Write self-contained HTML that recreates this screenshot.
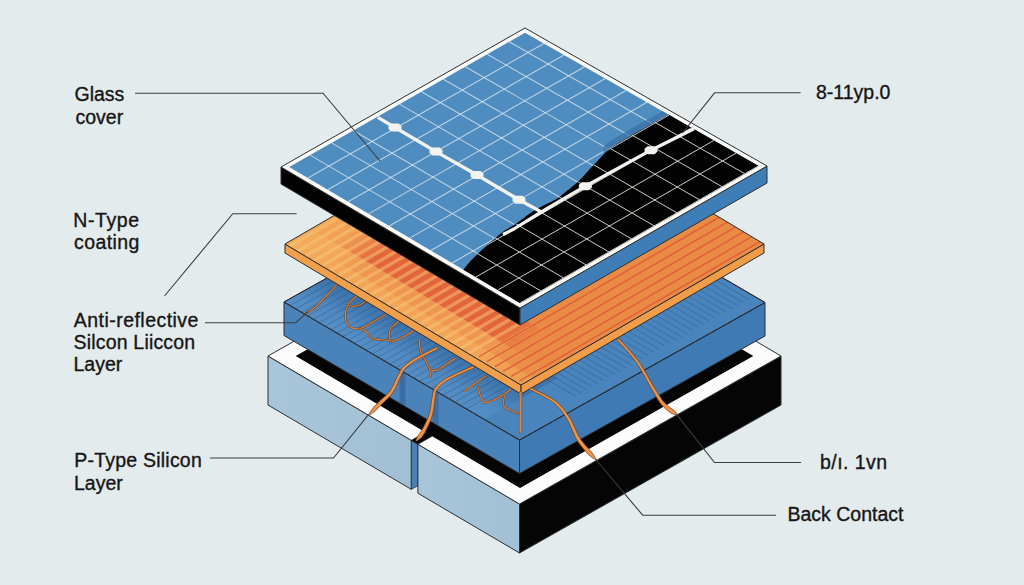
<!DOCTYPE html>
<html><head><meta charset="utf-8"><style>
html,body{margin:0;padding:0;}
body{width:1024px;height:585px;overflow:hidden;background:#e4ebec;}
svg{display:block;}
text{font-family:"Liberation Sans",sans-serif;font-size:19.5px;fill:#161616;stroke:#161616;stroke-width:0.35px;}
</style></head><body>
<svg width="1024" height="585" viewBox="0 0 1024 585">
<defs><linearGradient id="gBase" x1="0" y1="0" x2="1" y2="0"><stop offset="0" stop-color="#a8c5d9"/><stop offset="1" stop-color="#a2c0d5"/></linearGradient>
<linearGradient id="siV" gradientUnits="userSpaceOnUse" x1="284.00" y1="302.00" x2="406.51" y2="92.93"><stop offset="0.000" stop-color="#6aa2d4" stop-opacity="0.35"/><stop offset="0.060" stop-color="#6aa2d4" stop-opacity="0.2"/><stop offset="0.130" stop-color="#2a5a90" stop-opacity="0.25"/><stop offset="0.180" stop-color="#2a5a90" stop-opacity="0.4"/><stop offset="0.300" stop-color="#2a5a90" stop-opacity="0.4"/></linearGradient>
<linearGradient id="oB0" gradientUnits="userSpaceOnUse" x1="285.00" y1="244.00" x2="405.65" y2="451.93"><stop offset="0.000" stop-color="#f4ad5e"/><stop offset="0.200" stop-color="#f2a558"/><stop offset="0.800" stop-color="#f2a558"/><stop offset="0.900" stop-color="#f0a052"/><stop offset="1.000" stop-color="#eda050"/></linearGradient>
<linearGradient id="oB1" gradientUnits="userSpaceOnUse" x1="285.00" y1="244.00" x2="405.65" y2="451.93"><stop offset="0.000" stop-color="#f3aa5c"/><stop offset="0.120" stop-color="#f3aa5c"/><stop offset="0.250" stop-color="#ee9550"/><stop offset="0.800" stop-color="#ee9550"/><stop offset="0.900" stop-color="#eb9048"/><stop offset="1.000" stop-color="#eb9048"/></linearGradient>
<linearGradient id="oB2" gradientUnits="userSpaceOnUse" x1="285.00" y1="244.00" x2="405.65" y2="451.93"><stop offset="0.000" stop-color="#f2a558"/><stop offset="0.100" stop-color="#f0a055"/><stop offset="0.240" stop-color="#e3653c"/><stop offset="0.760" stop-color="#e3653c"/><stop offset="0.860" stop-color="#ea8b45"/><stop offset="1.000" stop-color="#ea8b45"/></linearGradient>
<clipPath id="cInner"><polygon points="289.21,167.03 520.14,303.19 758.69,166.07 524.97,32.71"/></clipPath>
<clipPath id="cBlack"><path d="M 674.00,111.50 C 673.07,112.07 672.57,112.55 668.40,114.90 C 664.23,117.25 655.83,121.77 649.00,125.60 C 642.17,129.43 634.07,133.92 627.40,137.90 C 620.73,141.88 614.55,145.05 609.00,149.50 C 603.45,153.95 599.15,159.35 594.10,164.60 C 589.05,169.85 584.17,175.87 578.70,181.00 C 573.23,186.13 565.25,192.27 561.30,195.40 C 557.35,198.53 559.48,197.28 555.00,199.80 C 550.52,202.32 540.92,206.50 534.40,210.50 C 527.88,214.50 520.70,220.55 515.90,223.80 C 511.10,227.05 508.85,227.77 505.60,230.00 C 502.35,232.23 500.25,233.95 496.40,237.20 C 492.55,240.45 486.77,245.57 482.50,249.50 C 478.23,253.43 473.95,257.47 470.80,260.80 C 467.65,264.13 465.57,267.13 463.60,269.50 C 461.63,271.87 459.77,274.08 459.00,275.00 L 450.15,289.61 L 519.34,330.55 L 805.94,165.66 Z"/></clipPath></defs>
<rect width="1024" height="585" fill="#e4ebec"/>
<polygon points="268.00,356.00 411.35,440.36 411.35,489.36 268.00,405.00" fill="url(#gBase)" stroke="#2b2f33" stroke-width="1"/>
<polygon points="411.35,440.36 417.89,436.66 417.89,485.66 411.35,489.36" fill="#4a80b6" stroke="#2b2f33" stroke-width="0.8"/>
<polygon points="417.89,444.21 519.50,504.00 519.50,553.00 417.89,493.21" fill="url(#gBase)" stroke="#2b2f33" stroke-width="1"/>
<polygon points="519.50,504.00 781.00,356.00 781.00,405.00 519.50,553.00" fill="#050505" stroke="#2b2f33" stroke-width="1"/>
<polygon points="268.00,356.00 519.50,504.00 781.00,356.00 529.50,208.00" fill="#fbfcfb" stroke="#2b2f33" stroke-width="1"/>
<polygon points="295.70,356.00 520.04,488.02 753.30,356.00 528.96,223.98" fill="#050505"/>
<polygon points="411.35,440.36 417.89,444.21 434.63,434.74 428.09,430.89" fill="#050505"/>
<polyline points="425.48,432.37 411.35,440.36 417.89,444.21 432.01,436.22" fill="none" stroke="#2b2f33" stroke-width="0.9"/>
<polygon points="284.00,302.00 519.50,440.00 519.50,473.50 284.00,335.50" fill="#4a83b9" stroke="#2b2f33" stroke-width="1"/>
<polygon points="519.50,440.00 765.00,302.50 765.00,336.00 519.50,473.50" fill="#3f7ab4" stroke="#2b2f33" stroke-width="1"/>
<polygon points="284.00,302.00 519.50,440.00 765.00,302.50 529.50,165.00" fill="#4a84bc" stroke="#2b2f33" stroke-width="1"/>
<polygon points="284.00,302.00 484.18,419.30 557.82,378.07 357.65,260.90" fill="url(#siV)"/>
<line x1="289.89" y1="305.45" x2="363.54" y2="264.35" stroke="#1f4a78" stroke-width="0.7" opacity="0.5"/>
<line x1="295.78" y1="308.90" x2="369.42" y2="267.79" stroke="#1f4a78" stroke-width="0.7" opacity="0.5"/>
<line x1="301.66" y1="312.35" x2="375.31" y2="271.24" stroke="#1f4a78" stroke-width="0.7" opacity="0.5"/>
<line x1="307.55" y1="315.80" x2="381.20" y2="274.69" stroke="#1f4a78" stroke-width="0.7" opacity="0.5"/>
<line x1="313.44" y1="319.25" x2="387.09" y2="278.13" stroke="#1f4a78" stroke-width="0.7" opacity="0.5"/>
<line x1="319.32" y1="322.70" x2="392.98" y2="281.58" stroke="#1f4a78" stroke-width="0.7" opacity="0.5"/>
<line x1="325.21" y1="326.15" x2="398.86" y2="285.02" stroke="#1f4a78" stroke-width="0.7" opacity="0.5"/>
<line x1="331.10" y1="329.60" x2="404.75" y2="288.47" stroke="#1f4a78" stroke-width="0.7" opacity="0.5"/>
<line x1="336.99" y1="333.05" x2="410.64" y2="291.92" stroke="#1f4a78" stroke-width="0.7" opacity="0.5"/>
<line x1="342.88" y1="336.50" x2="416.52" y2="295.36" stroke="#1f4a78" stroke-width="0.7" opacity="0.5"/>
<line x1="348.76" y1="339.95" x2="422.41" y2="298.81" stroke="#1f4a78" stroke-width="0.7" opacity="0.5"/>
<line x1="354.65" y1="343.40" x2="428.30" y2="302.25" stroke="#1f4a78" stroke-width="0.7" opacity="0.5"/>
<line x1="360.54" y1="346.85" x2="434.19" y2="305.70" stroke="#1f4a78" stroke-width="0.7" opacity="0.5"/>
<line x1="366.42" y1="350.30" x2="440.07" y2="309.15" stroke="#1f4a78" stroke-width="0.7" opacity="0.5"/>
<line x1="372.31" y1="353.75" x2="445.96" y2="312.59" stroke="#1f4a78" stroke-width="0.7" opacity="0.5"/>
<line x1="378.20" y1="357.20" x2="451.85" y2="316.04" stroke="#1f4a78" stroke-width="0.7" opacity="0.5"/>
<line x1="384.09" y1="360.65" x2="457.74" y2="319.49" stroke="#1f4a78" stroke-width="0.7" opacity="0.5"/>
<line x1="389.98" y1="364.10" x2="463.63" y2="322.93" stroke="#1f4a78" stroke-width="0.7" opacity="0.5"/>
<line x1="395.86" y1="367.55" x2="469.51" y2="326.38" stroke="#1f4a78" stroke-width="0.7" opacity="0.5"/>
<line x1="401.75" y1="371.00" x2="475.40" y2="329.82" stroke="#1f4a78" stroke-width="0.7" opacity="0.5"/>
<line x1="407.64" y1="374.45" x2="481.29" y2="333.27" stroke="#1f4a78" stroke-width="0.7" opacity="0.5"/>
<line x1="413.52" y1="377.90" x2="487.17" y2="336.72" stroke="#1f4a78" stroke-width="0.7" opacity="0.5"/>
<line x1="419.41" y1="381.35" x2="493.06" y2="340.16" stroke="#1f4a78" stroke-width="0.7" opacity="0.5"/>
<line x1="425.30" y1="384.80" x2="498.95" y2="343.61" stroke="#1f4a78" stroke-width="0.7" opacity="0.5"/>
<line x1="431.19" y1="388.25" x2="504.84" y2="347.06" stroke="#1f4a78" stroke-width="0.7" opacity="0.5"/>
<line x1="437.07" y1="391.70" x2="510.73" y2="350.50" stroke="#1f4a78" stroke-width="0.7" opacity="0.5"/>
<line x1="442.96" y1="395.15" x2="516.61" y2="353.95" stroke="#1f4a78" stroke-width="0.7" opacity="0.5"/>
<line x1="448.85" y1="398.60" x2="522.50" y2="357.39" stroke="#1f4a78" stroke-width="0.7" opacity="0.5"/>
<line x1="454.74" y1="402.05" x2="528.39" y2="360.84" stroke="#1f4a78" stroke-width="0.7" opacity="0.5"/>
<line x1="460.62" y1="405.50" x2="534.27" y2="364.29" stroke="#1f4a78" stroke-width="0.7" opacity="0.5"/>
<line x1="466.51" y1="408.95" x2="540.16" y2="367.73" stroke="#1f4a78" stroke-width="0.7" opacity="0.5"/>
<line x1="515.80" y1="361.14" x2="575.86" y2="396.30" stroke="#1f4a78" stroke-width="0.7" opacity="0.5"/>
<line x1="521.38" y1="358.02" x2="581.44" y2="393.17" stroke="#1f4a78" stroke-width="0.7" opacity="0.5"/>
<line x1="526.96" y1="354.90" x2="587.02" y2="390.05" stroke="#1f4a78" stroke-width="0.7" opacity="0.5"/>
<line x1="532.54" y1="351.78" x2="592.60" y2="386.92" stroke="#1f4a78" stroke-width="0.7" opacity="0.5"/>
<line x1="538.12" y1="348.65" x2="598.18" y2="383.80" stroke="#1f4a78" stroke-width="0.7" opacity="0.5"/>
<line x1="543.70" y1="345.53" x2="603.75" y2="380.67" stroke="#1f4a78" stroke-width="0.7" opacity="0.5"/>
<line x1="549.28" y1="342.41" x2="609.33" y2="377.55" stroke="#1f4a78" stroke-width="0.7" opacity="0.5"/>
<line x1="554.86" y1="339.29" x2="614.91" y2="374.42" stroke="#1f4a78" stroke-width="0.7" opacity="0.5"/>
<line x1="560.44" y1="336.17" x2="620.49" y2="371.30" stroke="#1f4a78" stroke-width="0.7" opacity="0.5"/>
<line x1="566.02" y1="333.05" x2="626.07" y2="368.18" stroke="#1f4a78" stroke-width="0.7" opacity="0.5"/>
<line x1="571.60" y1="329.93" x2="631.65" y2="365.05" stroke="#1f4a78" stroke-width="0.7" opacity="0.5"/>
<line x1="577.18" y1="326.80" x2="637.23" y2="361.93" stroke="#1f4a78" stroke-width="0.7" opacity="0.5"/>
<line x1="582.76" y1="323.68" x2="642.81" y2="358.80" stroke="#1f4a78" stroke-width="0.7" opacity="0.5"/>
<line x1="588.34" y1="320.56" x2="648.39" y2="355.68" stroke="#1f4a78" stroke-width="0.7" opacity="0.5"/>
<line x1="593.92" y1="317.44" x2="653.97" y2="352.55" stroke="#1f4a78" stroke-width="0.7" opacity="0.5"/>
<line x1="599.50" y1="314.32" x2="659.55" y2="349.43" stroke="#1f4a78" stroke-width="0.7" opacity="0.5"/>
<line x1="605.08" y1="311.20" x2="665.13" y2="346.30" stroke="#1f4a78" stroke-width="0.7" opacity="0.5"/>
<line x1="610.66" y1="308.07" x2="670.71" y2="343.18" stroke="#1f4a78" stroke-width="0.7" opacity="0.5"/>
<line x1="616.24" y1="304.95" x2="676.29" y2="340.06" stroke="#1f4a78" stroke-width="0.7" opacity="0.5"/>
<line x1="621.82" y1="301.83" x2="681.87" y2="336.93" stroke="#1f4a78" stroke-width="0.7" opacity="0.5"/>
<line x1="627.40" y1="298.71" x2="687.45" y2="333.81" stroke="#1f4a78" stroke-width="0.7" opacity="0.5"/>
<line x1="632.98" y1="295.59" x2="693.03" y2="330.68" stroke="#1f4a78" stroke-width="0.7" opacity="0.5"/>
<line x1="638.55" y1="292.47" x2="698.61" y2="327.56" stroke="#1f4a78" stroke-width="0.7" opacity="0.5"/>
<line x1="644.13" y1="289.34" x2="704.19" y2="324.43" stroke="#1f4a78" stroke-width="0.7" opacity="0.5"/>
<line x1="649.71" y1="286.22" x2="709.77" y2="321.31" stroke="#1f4a78" stroke-width="0.7" opacity="0.5"/>
<line x1="655.29" y1="283.10" x2="715.35" y2="318.18" stroke="#1f4a78" stroke-width="0.7" opacity="0.5"/>
<line x1="660.87" y1="279.98" x2="720.93" y2="315.06" stroke="#1f4a78" stroke-width="0.7" opacity="0.5"/>
<line x1="666.45" y1="276.86" x2="726.50" y2="311.93" stroke="#1f4a78" stroke-width="0.7" opacity="0.5"/>
<line x1="672.03" y1="273.74" x2="732.08" y2="308.81" stroke="#1f4a78" stroke-width="0.7" opacity="0.5"/>
<line x1="677.61" y1="270.61" x2="737.66" y2="305.69" stroke="#1f4a78" stroke-width="0.7" opacity="0.5"/>
<line x1="683.19" y1="267.49" x2="743.24" y2="302.56" stroke="#1f4a78" stroke-width="0.7" opacity="0.5"/>
<line x1="688.77" y1="264.37" x2="748.82" y2="299.44" stroke="#1f4a78" stroke-width="0.7" opacity="0.5"/>
<polygon points="284.00,302.00 519.50,440.00 765.00,302.50 529.50,165.00" fill="none" stroke="#2b2f33" stroke-width="1"/>
<path d="M 336.90,284.60 C 335.12,286.53 329.78,292.48 326.20,296.20 C 322.62,299.92 319.00,303.83 315.40,306.90 C 311.80,309.97 306.40,313.32 304.60,314.60 " fill="none" stroke="#6a3a1c" stroke-width="2.10" stroke-linecap="round" stroke-linejoin="round" opacity="0.85"/>
<path d="M 336.90,284.60 C 335.12,286.53 329.78,292.48 326.20,296.20 C 322.62,299.92 319.00,303.83 315.40,306.90 C 311.80,309.97 306.40,313.32 304.60,314.60 " fill="none" stroke="#e0823a" stroke-width="1.10" stroke-linecap="round" stroke-linejoin="round"/>
<path d="M 356.20,296.20 C 354.78,297.73 349.50,302.07 347.70,305.40 C 345.90,308.73 345.15,312.73 345.40,316.20 C 345.65,319.67 346.77,324.15 349.20,326.20 C 351.63,328.25 356.15,329.15 360.00,328.50 C 363.85,327.85 368.07,324.62 372.30,322.30 C 376.53,319.98 383.22,315.88 385.40,314.60 " fill="none" stroke="#6a3a1c" stroke-width="2.10" stroke-linecap="round" stroke-linejoin="round" opacity="0.85"/>
<path d="M 356.20,296.20 C 354.78,297.73 349.50,302.07 347.70,305.40 C 345.90,308.73 345.15,312.73 345.40,316.20 C 345.65,319.67 346.77,324.15 349.20,326.20 C 351.63,328.25 356.15,329.15 360.00,328.50 C 363.85,327.85 368.07,324.62 372.30,322.30 C 376.53,319.98 383.22,315.88 385.40,314.60 " fill="none" stroke="#e0823a" stroke-width="1.10" stroke-linecap="round" stroke-linejoin="round"/>
<path d="M 347.70,305.40 C 349.23,305.53 353.95,306.85 356.90,306.20 C 359.85,305.55 363.98,302.28 365.40,301.50 " fill="none" stroke="#6a3a1c" stroke-width="2.00" stroke-linecap="round" stroke-linejoin="round" opacity="0.85"/>
<path d="M 347.70,305.40 C 349.23,305.53 353.95,306.85 356.90,306.20 C 359.85,305.55 363.98,302.28 365.40,301.50 " fill="none" stroke="#e0823a" stroke-width="1.00" stroke-linecap="round" stroke-linejoin="round"/>
<path d="M 360.00,328.50 C 361.03,329.00 364.15,329.83 366.20,331.50 C 368.25,333.17 369.23,337.08 372.30,338.50 C 375.37,339.92 381.52,339.62 384.60,340.00 C 387.68,340.38 389.77,340.67 390.80,340.80 " fill="none" stroke="#6a3a1c" stroke-width="2.10" stroke-linecap="round" stroke-linejoin="round" opacity="0.85"/>
<path d="M 360.00,328.50 C 361.03,329.00 364.15,329.83 366.20,331.50 C 368.25,333.17 369.23,337.08 372.30,338.50 C 375.37,339.92 381.52,339.62 384.60,340.00 C 387.68,340.38 389.77,340.67 390.80,340.80 " fill="none" stroke="#e0823a" stroke-width="1.10" stroke-linecap="round" stroke-linejoin="round"/>
<path d="M 398.50,321.50 C 397.22,322.67 392.35,326.05 390.80,328.50 C 389.25,330.95 388.95,334.03 389.20,336.20 C 389.45,338.37 390.25,341.25 392.30,341.50 C 394.35,341.75 397.92,339.48 401.50,337.70 C 405.08,335.92 411.75,331.95 413.80,330.80 " fill="none" stroke="#6a3a1c" stroke-width="2.10" stroke-linecap="round" stroke-linejoin="round" opacity="0.85"/>
<path d="M 398.50,321.50 C 397.22,322.67 392.35,326.05 390.80,328.50 C 389.25,330.95 388.95,334.03 389.20,336.20 C 389.45,338.37 390.25,341.25 392.30,341.50 C 394.35,341.75 397.92,339.48 401.50,337.70 C 405.08,335.92 411.75,331.95 413.80,330.80 " fill="none" stroke="#e0823a" stroke-width="1.10" stroke-linecap="round" stroke-linejoin="round"/>
<path d="M 419.50,339.40 C 419.65,341.28 418.83,346.00 420.40,350.70 C 421.97,355.40 427.17,363.22 428.90,367.60 C 430.63,371.98 430.48,375.43 430.80,377.00 " fill="none" stroke="#6a3a1c" stroke-width="2.10" stroke-linecap="round" stroke-linejoin="round" opacity="0.85"/>
<path d="M 419.50,339.40 C 419.65,341.28 418.83,346.00 420.40,350.70 C 421.97,355.40 427.17,363.22 428.90,367.60 C 430.63,371.98 430.48,375.43 430.80,377.00 " fill="none" stroke="#e0823a" stroke-width="1.10" stroke-linecap="round" stroke-linejoin="round"/>
<path d="M 428.90,367.60 C 430.15,368.07 432.02,371.97 436.40,370.40 C 440.78,368.83 452.07,360.23 455.20,358.20 " fill="none" stroke="#6a3a1c" stroke-width="2.10" stroke-linecap="round" stroke-linejoin="round" opacity="0.85"/>
<path d="M 428.90,367.60 C 430.15,368.07 432.02,371.97 436.40,370.40 C 440.78,368.83 452.07,360.23 455.20,358.20 " fill="none" stroke="#e0823a" stroke-width="1.10" stroke-linecap="round" stroke-linejoin="round"/>
<path d="M 486.70,375.60 C 482.98,378.17 468.12,388.43 464.40,391.00 " fill="none" stroke="#6a3a1c" stroke-width="2.10" stroke-linecap="round" stroke-linejoin="round" opacity="0.85"/>
<path d="M 486.70,375.60 C 482.98,378.17 468.12,388.43 464.40,391.00 " fill="none" stroke="#e0823a" stroke-width="1.10" stroke-linecap="round" stroke-linejoin="round"/>
<path d="M 477.80,386.70 C 478.90,389.28 480.33,400.72 484.40,402.20 C 488.47,403.68 497.77,397.80 502.20,395.60 C 506.63,393.40 509.53,390.10 511.00,389.00 " fill="none" stroke="#6a3a1c" stroke-width="2.10" stroke-linecap="round" stroke-linejoin="round" opacity="0.85"/>
<path d="M 477.80,386.70 C 478.90,389.28 480.33,400.72 484.40,402.20 C 488.47,403.68 497.77,397.80 502.20,395.60 C 506.63,393.40 509.53,390.10 511.00,389.00 " fill="none" stroke="#e0823a" stroke-width="1.10" stroke-linecap="round" stroke-linejoin="round"/>
<path d="M 504.40,395.60 C 504.40,397.45 502.17,403.75 504.40,406.70 C 506.63,409.65 515.57,412.20 517.80,413.30 " fill="none" stroke="#6a3a1c" stroke-width="2.10" stroke-linecap="round" stroke-linejoin="round" opacity="0.85"/>
<path d="M 504.40,395.60 C 504.40,397.45 502.17,403.75 504.40,406.70 C 506.63,409.65 515.57,412.20 517.80,413.30 " fill="none" stroke="#e0823a" stroke-width="1.10" stroke-linecap="round" stroke-linejoin="round"/>
<polygon points="399.50,369.68 405.50,373.18 405.50,406.18 399.50,402.68" fill="#24548a" opacity="0.45"/>
<polygon points="432.50,389.02 438.50,392.52 438.50,425.52 432.50,422.02" fill="#24548a" opacity="0.45"/>
<polygon points="285.00,244.00 521.00,385.00 521.00,394.00 285.00,253.00" fill="#f19f4a" stroke="#2b2f33" stroke-width="1"/>
<polygon points="521.00,385.00 764.00,244.00 764.00,253.00 521.00,394.00" fill="#f09c48" stroke="#2b2f33" stroke-width="1"/>
<polygon points="285.00,244.00 521.00,385.00 764.00,244.00 528.00,103.00" fill="#ea8b45"/>
<polygon points="285.00,244.00 521.00,385.00 533.15,377.95 297.15,236.95" fill="url(#oB0)"/>
<polygon points="297.15,236.95 533.15,377.95 547.73,369.49 311.73,228.49" fill="url(#oB1)"/>
<polygon points="311.73,228.49 547.73,369.49 578.11,351.86 342.11,210.87" fill="url(#oB2)"/>
<polygon points="287.42,245.44 290.72,247.42 347.83,214.28 344.52,212.31" fill="#fac878" opacity="0.50"/>
<polygon points="295.55,250.31 298.86,252.28 355.96,219.15 352.66,217.17" fill="#fac878" opacity="0.50"/>
<polygon points="303.69,255.17 307.00,257.14 364.10,224.01 360.80,222.03" fill="#fac878" opacity="0.50"/>
<polygon points="311.83,260.03 315.13,262.00 372.24,228.87 368.94,226.90" fill="#fac878" opacity="0.50"/>
<polygon points="319.97,264.89 323.27,266.87 380.38,233.73 377.07,231.76" fill="#fac878" opacity="0.50"/>
<polygon points="328.11,269.75 331.41,271.73 388.52,238.59 385.21,236.62" fill="#fac878" opacity="0.50"/>
<polygon points="336.24,274.62 339.55,276.59 396.65,243.46 393.35,241.48" fill="#fac878" opacity="0.50"/>
<polygon points="344.38,279.48 347.69,281.45 404.79,248.32 401.49,246.34" fill="#fac878" opacity="0.50"/>
<polygon points="352.52,284.34 355.82,286.31 412.93,253.18 409.63,251.21" fill="#fac878" opacity="0.50"/>
<polygon points="360.66,289.20 363.96,291.18 421.07,258.04 417.76,256.07" fill="#fac878" opacity="0.50"/>
<polygon points="368.80,294.06 372.10,296.04 429.21,262.90 425.90,260.93" fill="#fac878" opacity="0.50"/>
<polygon points="376.93,298.93 380.24,300.90 437.34,267.77 434.04,265.79" fill="#fac878" opacity="0.50"/>
<polygon points="385.07,303.79 388.38,305.76 445.48,272.63 442.18,270.65" fill="#fac878" opacity="0.50"/>
<polygon points="393.21,308.65 396.51,310.62 453.62,277.49 450.32,275.52" fill="#fac878" opacity="0.50"/>
<polygon points="401.35,313.51 404.65,315.49 461.76,282.35 458.45,280.38" fill="#fac878" opacity="0.50"/>
<polygon points="409.49,318.38 412.79,320.35 469.89,287.21 466.59,285.24" fill="#fac878" opacity="0.50"/>
<polygon points="417.62,323.24 420.93,325.21 478.03,292.08 474.73,290.10" fill="#fac878" opacity="0.50"/>
<polygon points="425.76,328.10 429.07,330.07 486.17,296.94 482.87,294.96" fill="#fac878" opacity="0.50"/>
<polygon points="433.90,332.96 437.20,334.94 494.31,301.80 491.00,299.83" fill="#fac878" opacity="0.50"/>
<polygon points="442.04,337.82 445.34,339.80 502.45,306.66 499.14,304.69" fill="#fac878" opacity="0.50"/>
<polygon points="450.18,342.69 453.48,344.66 510.58,311.52 507.28,309.55" fill="#fac878" opacity="0.50"/>
<polygon points="458.31,347.55 461.62,349.52 518.72,316.39 515.42,314.41" fill="#fac878" opacity="0.50"/>
<polygon points="466.45,352.41 469.76,354.38 526.86,321.25 523.56,319.27" fill="#fac878" opacity="0.50"/>
<polygon points="474.59,357.27 477.89,359.25 535.00,326.11 531.69,324.14" fill="#fac878" opacity="0.31"/>
<polygon points="482.73,362.13 486.03,364.11 543.14,330.97 539.83,329.00" fill="#fac878" opacity="0.09"/>
<line x1="349.82" y1="211.18" x2="532.07" y2="105.43" stroke="#e05c38" stroke-width="1.5" opacity="0.9"/>
<line x1="357.96" y1="216.04" x2="540.21" y2="110.29" stroke="#e05c38" stroke-width="1.5" opacity="0.9"/>
<line x1="366.09" y1="220.91" x2="548.34" y2="115.16" stroke="#e05c38" stroke-width="1.5" opacity="0.9"/>
<line x1="374.23" y1="225.77" x2="556.48" y2="120.02" stroke="#e05c38" stroke-width="1.5" opacity="0.9"/>
<line x1="382.37" y1="230.63" x2="564.62" y2="124.88" stroke="#e05c38" stroke-width="1.5" opacity="0.9"/>
<line x1="390.51" y1="235.49" x2="572.76" y2="129.74" stroke="#e05c38" stroke-width="1.5" opacity="0.9"/>
<line x1="398.65" y1="240.35" x2="580.90" y2="134.60" stroke="#e05c38" stroke-width="1.5" opacity="0.9"/>
<line x1="406.78" y1="245.22" x2="589.03" y2="139.47" stroke="#e05c38" stroke-width="1.5" opacity="0.9"/>
<line x1="414.92" y1="250.08" x2="597.17" y2="144.33" stroke="#e05c38" stroke-width="1.5" opacity="0.9"/>
<line x1="423.06" y1="254.94" x2="605.31" y2="149.19" stroke="#e05c38" stroke-width="1.5" opacity="0.9"/>
<line x1="431.20" y1="259.80" x2="613.45" y2="154.05" stroke="#e05c38" stroke-width="1.5" opacity="0.9"/>
<line x1="439.34" y1="264.66" x2="621.59" y2="158.91" stroke="#e05c38" stroke-width="1.5" opacity="0.9"/>
<line x1="447.47" y1="269.53" x2="629.72" y2="163.78" stroke="#e05c38" stroke-width="1.5" opacity="0.9"/>
<line x1="455.61" y1="274.39" x2="637.86" y2="168.64" stroke="#e05c38" stroke-width="1.5" opacity="0.9"/>
<line x1="463.75" y1="279.25" x2="646.00" y2="173.50" stroke="#e05c38" stroke-width="1.5" opacity="0.9"/>
<line x1="471.89" y1="284.11" x2="654.14" y2="178.36" stroke="#e05c38" stroke-width="1.5" opacity="0.9"/>
<line x1="480.03" y1="288.97" x2="662.28" y2="183.22" stroke="#e05c38" stroke-width="1.5" opacity="0.9"/>
<line x1="488.16" y1="293.84" x2="670.41" y2="188.09" stroke="#e05c38" stroke-width="1.5" opacity="0.9"/>
<line x1="496.30" y1="298.70" x2="678.55" y2="192.95" stroke="#e05c38" stroke-width="1.5" opacity="0.9"/>
<line x1="504.44" y1="303.56" x2="686.69" y2="197.81" stroke="#e05c38" stroke-width="1.5" opacity="0.9"/>
<line x1="512.58" y1="308.42" x2="694.83" y2="202.67" stroke="#e05c38" stroke-width="1.5" opacity="0.9"/>
<line x1="520.72" y1="313.28" x2="702.97" y2="207.53" stroke="#e05c38" stroke-width="1.5" opacity="0.9"/>
<line x1="528.85" y1="318.15" x2="711.10" y2="212.40" stroke="#e05c38" stroke-width="1.5" opacity="0.9"/>
<line x1="478.67" y1="356.85" x2="719.24" y2="217.26" stroke="#e05c38" stroke-width="1.5" opacity="0.9"/>
<line x1="486.81" y1="361.71" x2="727.38" y2="222.12" stroke="#e05c38" stroke-width="1.5" opacity="0.9"/>
<line x1="494.95" y1="366.57" x2="735.52" y2="226.98" stroke="#e05c38" stroke-width="1.5" opacity="0.9"/>
<line x1="503.09" y1="371.43" x2="743.66" y2="231.84" stroke="#e05c38" stroke-width="1.5" opacity="0.9"/>
<line x1="511.22" y1="376.30" x2="751.79" y2="236.71" stroke="#e05c38" stroke-width="1.5" opacity="0.9"/>
<line x1="519.36" y1="381.16" x2="759.93" y2="241.57" stroke="#e05c38" stroke-width="1.5" opacity="0.9"/>
<polygon points="285.00,244.00 521.00,385.00 764.00,244.00 528.00,103.00" fill="none" stroke="#2b2f33" stroke-width="1"/>
<polygon points="437.26,346.73 436.26,347.23 434.99,347.86 433.47,348.61 431.77,349.45 429.92,350.36 427.98,351.32 425.99,352.32 424.00,353.33 422.05,354.33 420.20,355.31 418.49,356.24 416.96,357.11 415.58,357.93 414.24,358.74 412.94,359.53 411.69,360.32 410.49,361.11 409.34,361.89 408.23,362.67 407.17,363.45 406.16,364.23 405.20,365.02 404.29,365.82 403.43,366.63 402.64,367.44 401.96,368.23 401.36,369.01 400.84,369.77 400.38,370.53 399.96,371.30 399.57,372.06 399.20,372.84 398.81,373.63 398.41,374.46 397.97,375.34 397.45,376.30 396.88,377.39 396.30,378.57 395.73,379.81 395.14,381.09 394.55,382.40 393.95,383.72 393.33,385.05 392.69,386.35 392.03,387.61 391.35,388.82 390.65,389.96 389.92,391.02 389.16,392.01 388.34,392.96 387.47,393.88 386.57,394.78 385.63,395.67 384.66,396.54 383.68,397.41 382.67,398.29 381.66,399.18 380.65,400.08 379.64,401.02 378.65,401.98 377.67,402.98 376.63,404.04 375.56,405.14 374.48,406.26 373.43,407.42 372.55,408.69 371.70,409.92 370.92,411.09 370.21,412.19 369.61,413.18 369.12,414.05 368.77,414.78 369.23,415.22 369.94,414.81 370.78,414.27 371.72,413.59 372.76,412.81 373.88,411.95 375.04,411.02 376.24,410.06 377.33,408.94 378.38,407.80 379.41,406.68 380.41,405.61 381.35,404.62 382.25,403.69 383.17,402.79 384.13,401.89 385.10,400.99 386.08,400.09 387.07,399.17 388.06,398.24 389.04,397.27 390.00,396.27 390.93,395.23 391.82,394.13 392.68,392.98 393.48,391.76 394.23,390.47 394.94,389.15 395.61,387.79 396.25,386.41 396.87,385.04 397.45,383.68 398.02,382.36 398.57,381.08 399.10,379.87 399.63,378.74 400.15,377.70 400.65,376.70 401.10,375.75 401.50,374.88 401.86,374.07 402.20,373.31 402.53,372.60 402.87,371.93 403.24,371.28 403.66,370.63 404.14,369.97 404.70,369.29 405.37,368.57 406.14,367.82 406.96,367.07 407.85,366.32 408.79,365.56 409.79,364.80 410.84,364.04 411.95,363.27 413.11,362.49 414.32,361.71 415.58,360.91 416.89,360.10 418.24,359.29 419.72,358.43 421.39,357.50 423.21,356.52 425.13,355.52 427.10,354.51 429.07,353.50 431.00,352.54 432.84,351.62 434.54,350.77 436.06,350.02 437.34,349.38 438.34,348.87" fill="#ee9444" stroke="#6a3a1c" stroke-width="0.7" stroke-linejoin="round"/>
<polygon points="473.50,365.61 472.19,366.20 470.48,366.96 468.44,367.85 466.14,368.86 463.65,369.95 461.06,371.10 458.42,372.28 455.81,373.47 453.30,374.64 450.96,375.77 448.87,376.83 447.08,377.80 445.55,378.70 444.16,379.56 442.89,380.39 441.74,381.20 440.69,382.00 439.72,382.78 438.84,383.56 438.03,384.34 437.28,385.11 436.59,385.89 435.93,386.68 435.29,387.49 434.71,388.31 434.21,389.12 433.81,389.91 433.50,390.69 433.25,391.47 433.06,392.24 432.90,393.01 432.77,393.79 432.64,394.61 432.50,395.46 432.33,396.38 432.11,397.41 431.87,398.59 431.66,399.86 431.47,401.20 431.28,402.59 431.10,404.02 430.91,405.48 430.71,406.96 430.48,408.44 430.22,409.91 429.92,411.35 429.58,412.75 429.18,414.11 428.72,415.48 428.19,416.90 427.62,418.35 426.99,419.83 426.34,421.30 425.66,422.76 424.96,424.20 424.25,425.61 423.55,426.96 422.86,428.25 422.19,429.46 421.56,430.57 420.94,431.58 420.30,432.56 419.63,433.49 418.95,434.39 418.30,435.27 417.81,436.22 417.33,437.13 416.90,437.99 416.50,438.79 416.17,439.53 415.92,440.21 415.75,440.80 416.25,441.20 416.78,440.92 417.38,440.57 418.06,440.14 418.81,439.63 419.60,439.05 420.44,438.39 421.32,437.66 422.06,436.75 422.78,435.74 423.49,434.69 424.18,433.58 424.84,432.43 425.48,431.24 426.14,429.98 426.82,428.63 427.51,427.22 428.20,425.76 428.89,424.26 429.57,422.73 430.22,421.19 430.84,419.64 431.42,418.10 431.95,416.58 432.42,415.09 432.82,413.58 433.17,412.04 433.46,410.49 433.70,408.94 433.91,407.40 434.09,405.88 434.25,404.40 434.41,402.96 434.56,401.60 434.72,400.30 434.89,399.11 435.09,397.99 435.29,396.93 435.44,395.94 435.56,395.04 435.67,394.23 435.77,393.49 435.88,392.83 436.01,392.21 436.18,391.62 436.39,391.04 436.67,390.44 437.03,389.81 437.51,389.11 438.06,388.37 438.65,387.64 439.27,386.92 439.93,386.21 440.65,385.49 441.44,384.77 442.31,384.03 443.28,383.28 444.35,382.51 445.54,381.70 446.86,380.87 448.32,380.00 450.03,379.05 452.07,378.00 454.37,376.88 456.85,375.71 459.43,374.51 462.06,373.33 464.64,372.17 467.11,371.08 469.41,370.06 471.45,369.16 473.17,368.39 474.50,367.79" fill="#ee9444" stroke="#6a3a1c" stroke-width="0.7" stroke-linejoin="round"/>
<path d="M 520.50,392.50 C 520.50,399.08 520.50,425.42 520.50,432.00 " fill="none" stroke="#6a3a1c" stroke-width="3.20" stroke-linecap="round" stroke-linejoin="round" opacity="0.85"/>
<path d="M 520.50,392.50 C 520.50,399.08 520.50,425.42 520.50,432.00 " fill="none" stroke="#e0823a" stroke-width="2.20" stroke-linecap="round" stroke-linejoin="round"/>
<polygon points="616.78,339.73 617.72,340.79 618.91,342.09 620.30,343.59 621.87,345.27 623.56,347.11 625.34,349.06 627.17,351.11 629.03,353.22 630.85,355.37 632.62,357.52 634.28,359.65 635.79,361.72 637.23,363.83 638.66,366.06 640.08,368.40 641.48,370.80 642.87,373.25 644.23,375.71 645.57,378.16 646.88,380.56 648.15,382.89 649.38,385.12 650.58,387.23 651.73,389.18 652.80,390.96 653.80,392.64 654.73,394.24 655.62,395.75 656.48,397.20 657.31,398.58 658.15,399.92 658.98,401.20 659.84,402.45 660.73,403.66 661.67,404.85 662.67,406.03 663.77,407.20 664.97,408.34 666.22,409.43 667.50,410.46 668.79,411.45 670.05,412.37 671.28,413.24 672.58,413.79 673.84,414.19 674.97,414.51 675.96,414.73 676.81,414.87 677.19,414.33 676.77,413.56 676.15,412.71 675.40,411.80 674.53,410.82 673.53,409.85 672.32,409.08 671.08,408.25 669.83,407.37 668.61,406.46 667.44,405.52 666.34,404.55 665.33,403.57 664.39,402.54 663.49,401.49 662.62,400.40 661.77,399.26 660.93,398.07 660.09,396.82 659.22,395.49 658.33,394.10 657.41,392.62 656.43,391.05 655.38,389.38 654.27,387.62 653.10,385.74 651.89,383.69 650.62,381.50 649.32,379.20 647.97,376.82 646.59,374.39 645.18,371.93 643.75,369.48 642.29,367.06 640.81,364.70 639.31,362.43 637.81,360.28 636.21,358.16 634.49,356.01 632.67,353.84 630.80,351.68 628.91,349.56 627.04,347.51 625.23,345.56 623.51,343.74 621.94,342.06 620.54,340.58 619.35,339.30 618.42,338.27" fill="#ee9444" stroke="#6a3a1c" stroke-width="0.7" stroke-linejoin="round"/>
<polygon points="529.49,389.37 530.72,390.03 532.32,390.84 534.20,391.78 536.31,392.83 538.59,393.97 540.97,395.19 543.39,396.47 545.80,397.78 548.12,399.11 550.30,400.43 552.26,401.73 553.94,402.98 555.42,404.21 556.79,405.45 558.04,406.70 559.21,407.97 560.31,409.25 561.35,410.57 562.34,411.91 563.30,413.29 564.25,414.72 565.20,416.19 566.16,417.72 567.13,419.29 568.07,420.89 568.94,422.57 569.77,424.32 570.57,426.14 571.36,428.01 572.15,429.92 572.96,431.85 573.80,433.79 574.68,435.74 575.63,437.66 576.66,439.56 577.79,441.41 579.05,443.26 580.47,445.16 581.99,447.09 583.59,449.03 585.22,450.95 586.85,452.81 588.44,454.60 590.16,456.07 591.82,457.35 593.33,458.45 594.65,459.35 595.75,460.02 596.25,459.58 595.70,458.40 594.90,456.99 593.91,455.40 592.75,453.66 591.43,451.84 589.81,450.13 588.17,448.34 586.52,446.51 584.93,444.67 583.42,442.84 582.03,441.08 580.81,439.39 579.73,437.73 578.73,436.00 577.78,434.21 576.88,432.38 576.02,430.51 575.17,428.62 574.33,426.73 573.48,424.84 572.60,422.99 571.68,421.16 570.70,419.40 569.67,417.71 568.62,416.13 567.61,414.62 566.61,413.14 565.59,411.69 564.55,410.28 563.48,408.90 562.35,407.54 561.16,406.20 559.88,404.89 558.52,403.59 557.05,402.30 555.46,401.02 553.64,399.72 551.57,398.39 549.32,397.05 546.93,395.72 544.48,394.41 542.02,393.15 539.61,391.94 537.31,390.81 535.19,389.77 533.31,388.85 531.73,388.07 530.51,387.43" fill="#ee9444" stroke="#6a3a1c" stroke-width="0.7" stroke-linejoin="round"/>
<polygon points="281.00,167.00 520.00,308.00 520.00,325.00 281.00,184.00" fill="#030303" stroke="#2b2f33" stroke-width="1"/>
<polygon points="520.00,308.00 767.00,166.00 767.00,183.00 520.00,325.00" fill="#3f7db6" stroke="#2b2f33" stroke-width="1"/>
<polygon points="281.00,167.00 520.00,308.00 767.00,166.00 525.00,28.00" fill="#fbfbf8" stroke="#2b2f33" stroke-width="1.0"/>
<polygon points="289.21,167.03 520.14,303.19 758.69,166.07 524.97,32.71" fill="#4f8cbf"/>
<line x1="307.92" y1="178.06" x2="543.90" y2="43.51" stroke="#d8e6ee" stroke-width="1.05" opacity="0.8"/>
<line x1="327.78" y1="189.77" x2="564.00" y2="54.98" stroke="#d8e6ee" stroke-width="1.05" opacity="0.8"/>
<line x1="348.10" y1="201.75" x2="584.56" y2="66.72" stroke="#d8e6ee" stroke-width="1.05" opacity="0.8"/>
<line x1="368.65" y1="213.87" x2="605.37" y2="78.58" stroke="#d8e6ee" stroke-width="1.05" opacity="0.8"/>
<line x1="389.20" y1="225.99" x2="626.17" y2="90.45" stroke="#d8e6ee" stroke-width="1.05" opacity="0.8"/>
<line x1="409.75" y1="238.11" x2="646.97" y2="102.32" stroke="#d8e6ee" stroke-width="1.05" opacity="0.8"/>
<line x1="430.77" y1="250.50" x2="668.24" y2="114.46" stroke="#d8e6ee" stroke-width="1.05" opacity="0.8"/>
<line x1="452.01" y1="263.02" x2="689.74" y2="126.73" stroke="#d8e6ee" stroke-width="1.05" opacity="0.8"/>
<line x1="473.26" y1="275.55" x2="711.24" y2="139.00" stroke="#d8e6ee" stroke-width="1.05" opacity="0.8"/>
<line x1="494.50" y1="288.08" x2="732.74" y2="151.26" stroke="#d8e6ee" stroke-width="1.05" opacity="0.8"/>
<line x1="310.19" y1="155.08" x2="541.37" y2="290.99" stroke="#d8e6ee" stroke-width="1.05" opacity="0.8"/>
<line x1="331.65" y1="142.85" x2="563.07" y2="278.51" stroke="#d8e6ee" stroke-width="1.05" opacity="0.8"/>
<line x1="353.34" y1="130.50" x2="585.02" y2="265.89" stroke="#d8e6ee" stroke-width="1.05" opacity="0.8"/>
<line x1="399.54" y1="104.17" x2="631.78" y2="239.02" stroke="#d8e6ee" stroke-width="1.05" opacity="0.8"/>
<line x1="421.47" y1="91.68" x2="653.96" y2="226.26" stroke="#d8e6ee" stroke-width="1.05" opacity="0.8"/>
<line x1="443.39" y1="79.19" x2="676.15" y2="213.51" stroke="#d8e6ee" stroke-width="1.05" opacity="0.8"/>
<line x1="465.32" y1="66.69" x2="698.33" y2="200.76" stroke="#d8e6ee" stroke-width="1.05" opacity="0.8"/>
<line x1="487.24" y1="54.20" x2="720.52" y2="188.01" stroke="#d8e6ee" stroke-width="1.05" opacity="0.8"/>
<line x1="509.17" y1="41.71" x2="742.70" y2="175.25" stroke="#d8e6ee" stroke-width="1.05" opacity="0.8"/>
<g clip-path="url(#cInner)">
<path d="M 674.00,111.50 C 673.07,112.07 672.57,112.55 668.40,114.90 C 664.23,117.25 655.83,121.77 649.00,125.60 C 642.17,129.43 634.07,133.92 627.40,137.90 C 620.73,141.88 612.07,147.57 609.00,149.50 " fill="none" stroke="#3a6fa5" stroke-width="12" stroke-linecap="round" opacity="0.7"/>
<path d="M 674.00,111.50 C 673.07,112.07 672.57,112.55 668.40,114.90 C 664.23,117.25 655.83,121.77 649.00,125.60 C 642.17,129.43 634.07,133.92 627.40,137.90 C 620.73,141.88 614.55,145.05 609.00,149.50 C 603.45,153.95 599.15,159.35 594.10,164.60 C 589.05,169.85 584.17,175.87 578.70,181.00 C 573.23,186.13 565.25,192.27 561.30,195.40 C 557.35,198.53 559.48,197.28 555.00,199.80 C 550.52,202.32 540.92,206.50 534.40,210.50 C 527.88,214.50 520.70,220.55 515.90,223.80 C 511.10,227.05 508.85,227.77 505.60,230.00 C 502.35,232.23 500.25,233.95 496.40,237.20 C 492.55,240.45 486.77,245.57 482.50,249.50 C 478.23,253.43 473.95,257.47 470.80,260.80 C 467.65,264.13 465.57,267.13 463.60,269.50 C 461.63,271.87 459.77,274.08 459.00,275.00 L 450.15,289.61 L 519.34,330.55 L 805.94,165.66 Z" fill="#030303"/>
</g>
<g clip-path="url(#cBlack)">
<line x1="299.37" y1="173.02" x2="535.25" y2="38.58" stroke="#cdcbc2" stroke-width="1.0"/>
<line x1="321.43" y1="186.03" x2="557.57" y2="51.31" stroke="#cdcbc2" stroke-width="1.0"/>
<line x1="343.48" y1="199.03" x2="579.89" y2="64.05" stroke="#cdcbc2" stroke-width="1.0"/>
<line x1="365.53" y1="212.03" x2="602.21" y2="76.78" stroke="#cdcbc2" stroke-width="1.0"/>
<line x1="387.59" y1="225.04" x2="624.53" y2="89.52" stroke="#cdcbc2" stroke-width="1.0"/>
<line x1="409.64" y1="238.04" x2="646.85" y2="102.26" stroke="#cdcbc2" stroke-width="1.0"/>
<line x1="431.69" y1="251.04" x2="669.17" y2="114.99" stroke="#cdcbc2" stroke-width="1.0"/>
<line x1="453.74" y1="264.04" x2="691.49" y2="127.73" stroke="#cdcbc2" stroke-width="1.0"/>
<line x1="475.80" y1="277.05" x2="713.81" y2="140.46" stroke="#cdcbc2" stroke-width="1.0"/>
<line x1="497.85" y1="290.05" x2="736.13" y2="153.20" stroke="#cdcbc2" stroke-width="1.0"/>
<line x1="519.90" y1="303.05" x2="758.45" y2="165.93" stroke="#cdcbc2" stroke-width="1.0"/>
<line x1="309.96" y1="155.21" x2="541.13" y2="291.12" stroke="#cdcbc2" stroke-width="1.0"/>
<line x1="332.35" y1="142.45" x2="563.79" y2="278.10" stroke="#cdcbc2" stroke-width="1.0"/>
<line x1="354.75" y1="129.69" x2="586.45" y2="265.07" stroke="#cdcbc2" stroke-width="1.0"/>
<line x1="377.15" y1="116.93" x2="609.12" y2="252.04" stroke="#cdcbc2" stroke-width="1.0"/>
<line x1="399.54" y1="104.17" x2="631.78" y2="239.02" stroke="#cdcbc2" stroke-width="1.0"/>
<line x1="421.94" y1="91.41" x2="654.44" y2="225.99" stroke="#cdcbc2" stroke-width="1.0"/>
<line x1="444.34" y1="78.65" x2="677.10" y2="212.96" stroke="#cdcbc2" stroke-width="1.0"/>
<line x1="466.73" y1="65.89" x2="699.77" y2="199.94" stroke="#cdcbc2" stroke-width="1.0"/>
<line x1="489.13" y1="53.13" x2="722.43" y2="186.91" stroke="#cdcbc2" stroke-width="1.0"/>
<line x1="511.53" y1="40.37" x2="745.09" y2="173.88" stroke="#cdcbc2" stroke-width="1.0"/>
</g>
<polyline points="377.79,117.39 395.00,127.50 436.00,151.60 477.00,175.00 519.00,199.70 540.50,211.50" fill="none" stroke="#f2f2ee" stroke-width="3.4" stroke-linejoin="round"/>
<polyline points="694.00,128.70 651.00,150.20 585.40,186.20 560.00,201.00 540.50,212.50 513.80,229.00 503.00,234.50" fill="none" stroke="#f2f2ee" stroke-width="3.2" stroke-linejoin="round"/>
<polygon points="388.50,126.10 391.43,123.50 398.57,123.50 401.50,126.10 401.50,128.90 398.57,131.50 391.43,131.50 388.50,128.90" fill="#f2f2ee"/>
<polygon points="429.50,150.20 432.43,147.60 439.57,147.60 442.50,150.20 442.50,153.00 439.57,155.60 432.43,155.60 429.50,153.00" fill="#f2f2ee"/>
<polygon points="470.50,173.60 473.43,171.00 480.57,171.00 483.50,173.60 483.50,176.40 480.57,179.00 473.43,179.00 470.50,176.40" fill="#f2f2ee"/>
<polygon points="512.50,198.30 515.42,195.70 522.58,195.70 525.50,198.30 525.50,201.10 522.58,203.70 515.42,203.70 512.50,201.10" fill="#f2f2ee"/>
<polygon points="578.90,184.80 581.82,182.20 588.98,182.20 591.90,184.80 591.90,187.60 588.98,190.20 581.82,190.20 578.90,187.60" fill="#f2f2ee"/>
<polygon points="644.50,148.80 647.42,146.20 654.58,146.20 657.50,148.80 657.50,151.60 654.58,154.20 647.42,154.20 644.50,151.60" fill="#f2f2ee"/>

<polyline points="135,93.2 323,93.2 380,161" fill="none" stroke="#3a3d40" stroke-width="1.1"/>
<polyline points="800.7,92.8 714.6,92.8 682.5,133" fill="none" stroke="#3a3d40" stroke-width="1.1"/>
<polyline points="296.7,213.7 232.8,213.7 164.5,296" fill="none" stroke="#3a3d40" stroke-width="1.1"/>
<polyline points="205,322.8 295.7,322.8 308,311.5" fill="none" stroke="#3a3d40" stroke-width="1.1"/>
<polyline points="210,458 333.5,458 368.5,414.6" fill="none" stroke="#3a3d40" stroke-width="1.1"/>
<polyline points="801,462.5 714.5,462.5 676.5,414.4" fill="none" stroke="#3a3d40" stroke-width="1.1"/>
<polyline points="776,515.2 642.7,515.2 595.8,459.5" fill="none" stroke="#3a3d40" stroke-width="1.1"/>

<text x="74.5" y="100.8">Glass</text>
<text x="75.5" y="123.5">cover</text>
<text x="816.0" y="98.7">8-11yp.0</text>
<text x="73.2" y="227.0" textLength="65.9" lengthAdjust="spacing">N-Type</text>
<text x="74.0" y="249.0" textLength="65.4" lengthAdjust="spacing">coating</text>
<text x="73.8" y="327.0" textLength="124.6" lengthAdjust="spacing">Anti-reflective</text>
<text x="73.5" y="349.2" textLength="121.7" lengthAdjust="spacing">Silcon Liiccon</text>
<text x="73.5" y="371.2">Layer</text>
<text x="74.2" y="467.0" textLength="127.6" lengthAdjust="spacing">P-Type Silicon</text>
<text x="74.0" y="489.6">Layer</text>
<text x="820.0" y="468.6" textLength="67.0" lengthAdjust="spacing">b/ı. 1vn</text>
<text x="787.5" y="521.2">Back Contact</text>
</svg>
</body></html>
